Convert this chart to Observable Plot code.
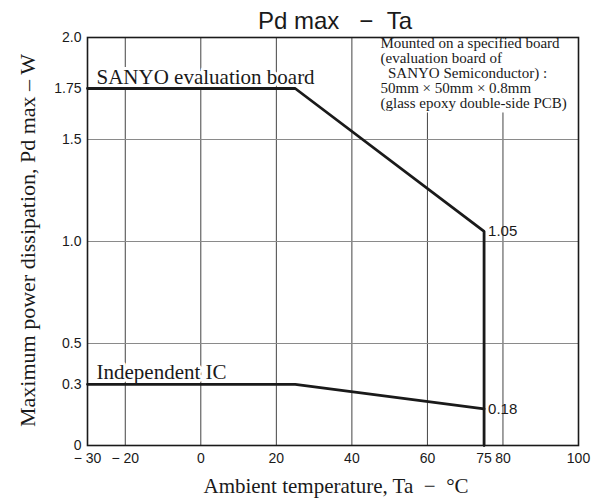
<!DOCTYPE html>
<html>
<head>
<meta charset="utf-8">
<script src="https://cdn.jsdelivr.net/npm/d3@7"></script>
<script src="https://cdn.jsdelivr.net/npm/@observablehq/plot@0.6"></script>
<style>
  html, body { margin: 0; padding: 0; background: #fff; }
</style>
</head>
<body>
<div id="chart"></div>
<script>
// ---- data ----
const xTicks = [-30, -20, 0, 20, 40, 60, 75, 80, 100];
const xTickLabels = ["\u2212 30", "\u2212 20", "0", "20", "40", "60", "75", "80", "100"];
const yTicks = [0, 0.3, 0.5, 1.0, 1.5, 1.75, 2.0];
const yTickLabels = ["0", "0.3", "0.5", "1.0", "1.5", "1.75", "2.0"];
const gridX = [-20, 0, 20, 40, 60, 80];
const gridY = [0.5, 1.0, 1.5];

const boardTemp = [-30, 25, 75, 75];
const boardPd = [1.75, 1.75, 1.05, 0];
const icTemp = [-30, 25, 75];
const icPd = [0.3, 0.3, 0.18];

const seriesNames = ["SANYO evaluation board", "Independent IC"];
const endText = ["1.05", "0.18"];

const titleText = "Pd max\u00a0\u00a0\u00a0\u2212\u00a0\u00a0Ta";
const xLabel = "Ambient temperature, Ta\u00a0\u00a0\u2212\u00a0\u00a0\u00b0C";
const yLabel = "Maximum power dissipation, Pd max \u2013 W";
const noteLines = [
  "Mounted on a specified board",
  "(evaluation board of",
  "\u00a0\u00a0SANYO Semiconductor) :",
  "50mm \u00d7 50mm \u00d7 0.8mm",
  "(glass epoxy double-side PCB)"
];

// ---- build tables ----
const board = boardTemp.map((t, i) => ({t, pd: boardPd[i]}));
const ic = icTemp.map((t, i) => ({t, pd: icPd[i]}));
const series = [board, ic];
const startLabels = series.map((s, i) => ({t: s[0].t, pd: s[0].pd, name: seriesNames[i]}));
const endPts = [board[2], ic[2]].map((p, i) => ({t: p.t, pd: p.pd, label: endText[i]}));
const xLab = new Map(xTicks.map((d, i) => [d, xTickLabels[i]]));
const yLab = new Map(yTicks.map((d, i) => [d, yTickLabels[i]]));

const sans = "Liberation Sans, Arial, Helvetica, sans-serif";
const serif = "Liberation Serif, Times New Roman, serif";
const ink = "#1a1a1a";

const chart = Plot.plot({
  width: 602,
  height: 499,
  marginLeft: 87,
  marginRight: 24,
  marginTop: 37,
  marginBottom: 54,
  style: {background: "#fff", color: ink, fontFamily: sans},
  x: {domain: [-30, 100]},
  y: {domain: [0, 2]},
  marks: [
    Plot.ruleX(gridX, {stroke: "#444", strokeWidth: 1}),
    Plot.ruleY(gridY, {stroke: "#8a8a8a", strokeWidth: 1}),
    Plot.axisX({ticks: xTicks, tickFormat: d => xLab.get(d), tickSize: 0, tickPadding: 8,
      fontSize: 14, fontFamily: sans, label: null, fill: ink}),
    Plot.axisY({ticks: yTicks, tickFormat: d => yLab.get(d), tickSize: 0, tickPadding: 6,
      fontSize: 14, fontFamily: sans, label: null, fill: ink}),
    // white backing of the note box
    Plot.rect([0], {x1: () => 44.4, x2: () => 100, y1: () => 1.63, y2: () => 2, fill: "#fff"}),
    // note box text
    Plot.text([noteLines.join("\n")], {
      frameAnchor: "top-right", text: d => d, textAnchor: "start", lineAnchor: "top",
      dx: -198, dy: 0, fontSize: 15, lineHeight: 1.0, fontFamily: serif, fill: ink
    }),
    // series labels
    Plot.text(startLabels, {
      x: "t", y: "pd", text: "name", textAnchor: "start", lineAnchor: "bottom",
      dx: 9, dy: -5, fontSize: 21, fontFamily: serif, fill: ink,
      stroke: "#fff", strokeWidth: 6, paintOrder: "stroke"
    }),
    // end values
    Plot.text(endPts, {
      x: "t", y: "pd", text: "label", textAnchor: "start", dx: 4,
      fontSize: 15, fontFamily: sans, fill: ink
    }),
    Plot.line(board, {x: "t", y: "pd", stroke: ink, strokeWidth: 2.8, strokeLinejoin: "miter"}),
    Plot.line(ic, {x: "t", y: "pd", stroke: ink, strokeWidth: 2.8, strokeLinejoin: "miter"}),
    Plot.frame({stroke: ink, strokeWidth: 1.6}),
    // title
    Plot.text([titleText], {frameAnchor: "top", text: d => d, lineAnchor: "bottom", dy: -9, dx: 2,
      fontSize: 24, fontFamily: sans, fill: ink}),
    // axis labels
    Plot.text([xLabel], {frameAnchor: "bottom", text: d => d, lineAnchor: "bottom", dy: 47, dx: 3,
      fontSize: 21, fontFamily: serif, fill: ink}),
    Plot.text([yLabel], {frameAnchor: "left", text: d => d, rotate: -90, textAnchor: "middle",
      lineAnchor: "middle", dx: -60, dy: -1, fontSize: 22, fontFamily: serif, fill: ink})
  ]
});
document.getElementById("chart").appendChild(chart);
</script>
</body>
</html>
